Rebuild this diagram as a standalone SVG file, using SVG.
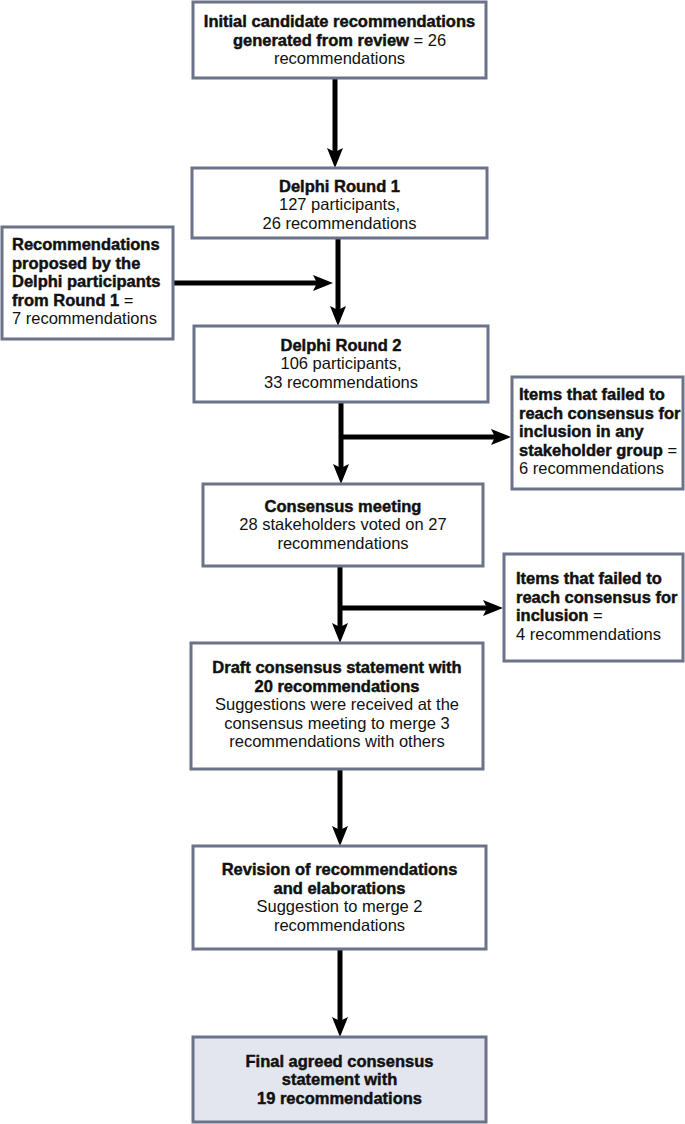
<svg xmlns="http://www.w3.org/2000/svg" width="685" height="1124" viewBox="0 0 685 1124">
<defs>
<style>
.box{fill:#ffffff;stroke:#6b7388;stroke-width:3}
.final{fill:#e3e6ee;stroke:#6b7388;stroke-width:3}
text{font-family:"Liberation Sans",Arial,sans-serif;font-size:16.5px;fill:#111111}
.c{text-anchor:middle}
.b{font-weight:700;stroke:#111111;stroke-width:0.45}
.conn{stroke:#000000;stroke-width:5;fill:none;marker-end:url(#ah)}
</style>
<marker id="ah" markerUnits="userSpaceOnUse" markerWidth="20" markerHeight="18" refX="10" refY="8" orient="auto">
<path d="M0,0 L20,8 L0,16 L4,8 Z" fill="#000000"/>
</marker>
</defs>
<rect width="685" height="1124" fill="#ffffff"/>
<g id="connectors">
<line class="conn" x1="335" y1="78" x2="335" y2="158"/>
<line class="conn" x1="338" y1="238" x2="338" y2="316"/>
<line class="conn" x1="173" y1="283" x2="323" y2="283"/>
<line class="conn" x1="341" y1="402" x2="341" y2="474"/>
<line class="conn" x1="339" y1="437" x2="501" y2="437"/>
<line class="conn" x1="340" y1="566" x2="340" y2="633"/>
<line class="conn" x1="338" y1="608" x2="493" y2="608"/>
<line class="conn" x1="340" y1="769" x2="340" y2="836"/>
<line class="conn" x1="340" y1="949" x2="340" y2="1027"/>
</g>
<g id="initial">
<rect class="box" x="193" y="2" width="293" height="76"/>
<text class="c"><tspan x="339.5" y="27" class="b">Initial candidate recommendations</tspan><tspan x="339.5" y="45.5"><tspan class="b">generated from review</tspan> = 26</tspan><tspan x="339.5" y="64">recommendations</tspan></text>
</g>
<g id="round1">
<rect class="box" x="192" y="168" width="295" height="70"/>
<text class="c"><tspan x="339.5" y="191.5" class="b">Delphi Round 1</tspan><tspan x="339.5" y="210">127 participants,</tspan><tspan x="339.5" y="228.5">26 recommendations</tspan></text>
</g>
<g id="proposed">
<rect class="box" x="2" y="227" width="171" height="112"/>
<text><tspan x="12" y="250" class="b">Recommendations</tspan><tspan x="12" y="268.5" class="b">proposed by the</tspan><tspan x="12" y="287" class="b">Delphi participants</tspan><tspan x="12" y="305.5"><tspan class="b">from Round 1</tspan> =</tspan><tspan x="12" y="324">7 recommendations</tspan></text>
</g>
<g id="round2">
<rect class="box" x="194" y="326" width="294" height="76"/>
<text class="c"><tspan x="341" y="350.5" class="b">Delphi Round 2</tspan><tspan x="341" y="369">106 participants,</tspan><tspan x="341" y="387.5">33 recommendations</tspan></text>
</g>
<g id="failed1">
<rect class="box" x="512" y="377" width="171" height="112"/>
<text><tspan x="519" y="400" class="b">Items that failed to</tspan><tspan x="519" y="418.5" class="b">reach consensus for</tspan><tspan x="519" y="437" class="b">inclusion in any</tspan><tspan x="519" y="455.5"><tspan class="b">stakeholder group</tspan> =</tspan><tspan x="519" y="474">6 recommendations</tspan></text>
</g>
<g id="meeting">
<rect class="box" x="203" y="484" width="280" height="82"/>
<text class="c"><tspan x="343" y="511.5" class="b">Consensus meeting</tspan><tspan x="343" y="530">28 stakeholders voted on 27</tspan><tspan x="343" y="548.5">recommendations</tspan></text>
</g>
<g id="failed2">
<rect class="box" x="504" y="554" width="179" height="107"/>
<text><tspan x="516" y="584" class="b">Items that failed to</tspan><tspan x="516" y="602.5" class="b">reach consensus for</tspan><tspan x="516" y="621"><tspan class="b">inclusion</tspan> =</tspan><tspan x="516" y="639.5">4 recommendations</tspan></text>
</g>
<g id="draft">
<rect class="box" x="191" y="643" width="292" height="126"/>
<text class="c"><tspan x="337" y="673" class="b">Draft consensus statement with</tspan><tspan x="337" y="691.5" class="b">20 recommendations</tspan><tspan x="337" y="710">Suggestions were received at the</tspan><tspan x="337" y="728.5">consensus meeting to merge 3</tspan><tspan x="337" y="747">recommendations with others</tspan></text>
</g>
<g id="revision">
<rect class="box" x="193" y="846" width="293" height="103"/>
<text class="c"><tspan x="339.5" y="875" class="b">Revision of recommendations</tspan><tspan x="339.5" y="893.5" class="b">and elaborations</tspan><tspan x="339.5" y="912">Suggestion to merge 2</tspan><tspan x="339.5" y="930.5">recommendations</tspan></text>
</g>
<g id="final">
<rect class="final" x="193" y="1037" width="293" height="85"/>
<text class="c"><tspan x="339.5" y="1066.5" class="b">Final agreed consensus</tspan><tspan x="339.5" y="1085" class="b">statement with</tspan><tspan x="339.5" y="1103.5" class="b">19 recommendations</tspan></text>
</g>
</svg>
